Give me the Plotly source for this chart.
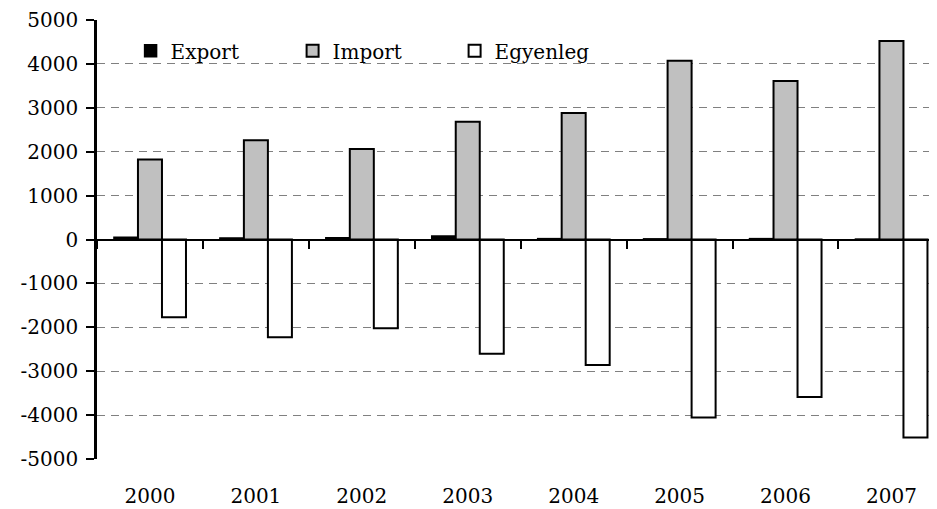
import plotly.graph_objects as go

years = ["2000", "2001", "2002", "2003", "2004", "2005", "2006", "2007"]
export_vals = [50, 35, 40, 80, 20, 15, 20, 10]
import_vals = [1820, 2260, 2060, 2680, 2880, 4070, 3610, 4520]
egyenleg_vals = [-1770, -2225, -2020, -2600, -2860, -4055, -3590, -4510]
y_ticks = [5000, 4000, 3000, 2000, 1000, 0, -1000, -2000, -3000, -4000, -5000]
y_ticktext = ["5000", "4000", "3000", "2000", "1000", "0", "-1000", "-2000", "-3000", "-4000", "-5000"]

FONT = "DejaVu Serif"
fig = go.Figure()
fig.add_trace(go.Bar(name="Export", x=years, y=export_vals,
                     marker=dict(color="black", line=dict(color="black", width=1.5))))
fig.add_trace(go.Bar(name="Import", x=years, y=import_vals,
                     marker=dict(color="#C0C0C0", line=dict(color="black", width=2))))
fig.add_trace(go.Bar(name="Egyenleg", x=years, y=egyenleg_vals,
                     marker=dict(color="white", line=dict(color="black", width=2))))
# invisible helper trace for the zero-line axis
fig.add_trace(go.Scatter(x=years, y=[0] * len(years), xaxis="x2", mode="markers",
                         marker=dict(opacity=0), showlegend=False, hoverinfo="skip"))

xr = [-0.5, 7.43]
fig.update_layout(
    width=929, height=501,
    margin=dict(l=89, r=0, t=12, b=50),
    paper_bgcolor="white", plot_bgcolor="white",
    font=dict(family=FONT, size=20, color="black"),
    barmode="group", bargap=0.32, bargroupgap=0,
    showlegend=True,
    legend=dict(orientation="h", x=0.04, y=0.93, xanchor="left", yanchor="middle",
                entrywidth=117, entrywidthmode="pixels", itemwidth=30,
                font=dict(family=FONT, size=20), bgcolor="rgba(0,0,0,0)",
                traceorder="normal"),
    xaxis=dict(type="category", range=xr, showline=False, ticks="",
               showgrid=False, zeroline=False, ticklabelstandoff=23,
               tickfont=dict(family=FONT, size=20)),
    xaxis2=dict(type="category", overlaying="x", anchor="free", position=0.5,
                range=xr, showline=True, linecolor="black", linewidth=2,
                ticks="outside", tickson="boundaries", ticklen=8, tickwidth=2,
                tickcolor="black", showticklabels=False, showgrid=False, zeroline=False),
    yaxis=dict(range=[-5000, 5000], tickmode="array", tickvals=y_ticks, ticktext=y_ticktext,
               showline=True, linecolor="black", linewidth=2.5,
               ticks="outside", ticklen=8, tickwidth=2, tickcolor="black",
               ticklabelstandoff=4,
               showgrid=True, gridcolor="#808080", gridwidth=1, griddash="8px,6px",
               zeroline=False, tickfont=dict(family=FONT, size=20)),
)
fig.write_html("out.html")
